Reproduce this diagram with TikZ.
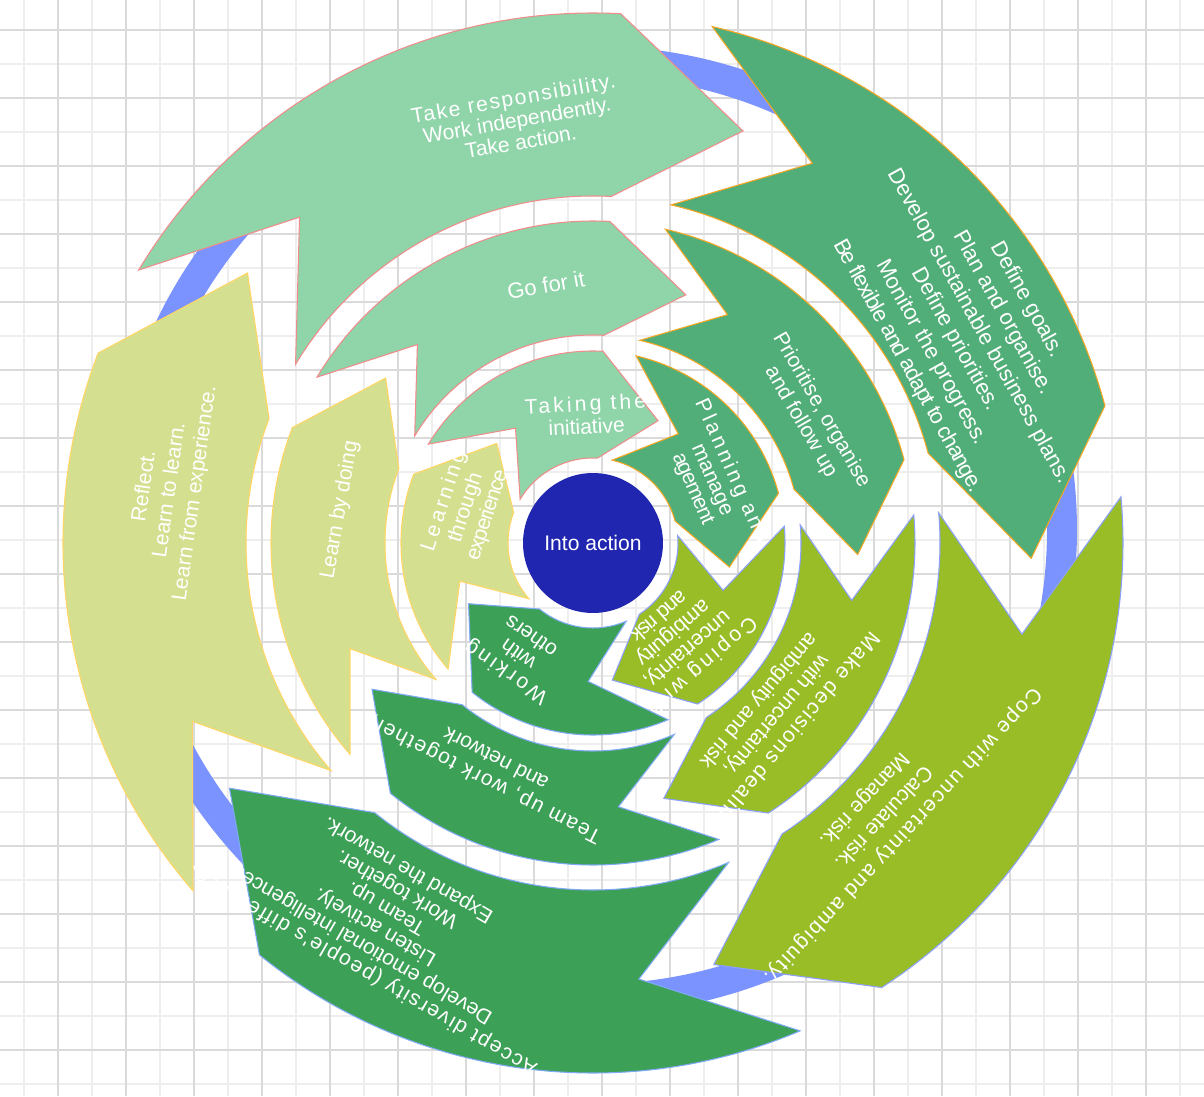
\documentclass[tikz,border=0pt]{standalone}
\usepackage{fontspec}
\setmainfont{Liberation Sans}
\newfontfamily\wideA[LetterSpace=8]{Liberation Sans}
\newfontfamily\wideB[LetterSpace=15]{Liberation Sans}
\newfontfamily\narrowA[LetterSpace=-5]{Liberation Sans}
\usepackage{tikz}
\definecolor{ia_grid}{RGB}{238,238,238}
\definecolor{ia_griddark}{RGB}{218,218,218}
\definecolor{ia_ring}{RGB}{123,147,255}
\definecolor{ia_core}{RGB}{32,38,176}
\definecolor{ia_top}{RGB}{143,213,169}
\definecolor{ia_topline}{RGB}{240,140,140}
\definecolor{ia_plan}{RGB}{82,174,120}
\definecolor{ia_planline}{RGB}{245,166,35}
\definecolor{ia_risk}{RGB}{153,189,39}
\definecolor{ia_riskline}{RGB}{140,160,255}
\definecolor{ia_team}{RGB}{61,160,87}
\definecolor{ia_teamline}{RGB}{127,169,245}
\definecolor{ia_learn}{RGB}{212,224,143}
\definecolor{ia_learnline}{RGB}{255,214,102}
\tikzstyle{topa}=[fill=ia_top,draw=ia_topline,line width=0.6pt]
\tikzstyle{plana}=[fill=ia_plan,draw=ia_planline,line width=0.6pt]
\tikzstyle{riska}=[fill=ia_risk,draw=ia_riskline,line width=0.6pt]
\tikzstyle{teama}=[fill=ia_team,draw=ia_teamline,line width=0.6pt]
\tikzstyle{learna}=[fill=ia_learn,draw=ia_learnline,line width=0.6pt]
\tikzstyle{lbl}=[text=white,align=center,inner sep=0pt,
  font=\fontsize{12}{13.5}\selectfont]
\tikzstyle{core}=[circle,fill=ia_core,text=white,inner sep=0pt,
  minimum size=2.8cm,font=\fontsize{12}{13.5}\selectfont]
\newcommand{\arcarrow}[6]{%
  \path[#1] (#4:#3) arc[start angle=#4,end angle=#5,radius=#3]
    -- ({#5-#6}:{(#2+#3)/2}) -- (#5:#2)
    arc[start angle=#5,end angle=#4,radius=#2]
    -- ({#4-#6}:{(#2+#3)/2}) -- cycle;}

\begin{document}
\begin{tikzpicture}[x=0.02cm,y=0.02cm]
    \useasboundingbox[fill=white] (-593,-553) rectangle (611,543);
    \foreach \gx in {-569,-535,...,611}
      \draw[ia_grid,line width=1.1pt] (\gx,-553) -- (\gx,543);
    \foreach \gy in {-541,-507,...,543}
      \draw[ia_grid,line width=1.1pt] (-593,\gy) -- (611,\gy);
    \foreach \gx in {-535,-467,...,611}
      \draw[ia_griddark,line width=1.1pt] (\gx,-553) -- (\gx,543);
    \foreach \gy in {-507,-439,...,543}
      \draw[ia_griddark,line width=1.1pt] (-593,\gy) -- (611,\gy);
    \draw[ia_ring,line width=0.6cm] (0,13) circle[radius=469];

    \arcarrow{topa}{347}{530}{149}{87}{17}
    \node[lbl,rotate=10,font=\fontsize{12}{12.5}\selectfont] (t3) at (-76,423)
      {{\wideA Take responsibility.}\\Work independently.\\Take action.};
    \arcarrow{topa}{208}{322}{149}{87}{17.5}
    \node[lbl,rotate=10,font=\fontsize{12.5}{14}\selectfont] (t2) at (-47,258) {Go for it};
    \arcarrow{topa}{85}{192}{149}{87}{25}
    \node[lbl,rotate=3,font=\fontsize{12}{13}\selectfont] (t1) at (-7,128)
      {{\wideB Taking the}\\initiative};

    \arcarrow{plana}{347}{530}{77}{15}{17}
    \node[lbl,rotate=-61,font=\fontsize{12.5}{15.5}\selectfont] (g3) at (374,210)
      {Define goals.\\Plan and organise.\\Develop sustainable business plans.\\Define priorities.\\Monitor the progress.\\{\narrowA Be flexible and adapt to change.}};
    \arcarrow{plana}{208}{322}{77}{15}{17.5}
    \node[lbl,rotate=-60] (g2) at (218,127) {Prioritise, organise\\and follow up};
    \arcarrow{plana}{85}{192}{77}{15}{25}
    \node[lbl,rotate=-66,font=\fontsize{12}{12}\selectfont] (g1) at (119,63)
      {{\wideB Planning and}\\manage\\{\narrowA agement}};

    \arcarrow{riska}{347}{530}{5}{-57}{17}
    \node[lbl,rotate=-133,font=\fontsize{12}{15}\selectfont] (y3) at (290,-274)
      {{\wideA Cope with uncertainty and ambiguity.}\\Calculate risk.\\Manage risk.};
    \arcarrow{riska}{208}{322}{5}{-57}{17.5}
    \node[lbl,rotate=-130] (y2) at (183,-172)
      {{\wideA Make decisions dealing}\\with uncertainty,\\ambiguity and risk};
    \arcarrow{riska}{85}{192}{5}{-57}{25}
    \node[lbl,rotate=-139,font=\fontsize{12}{12.5}\selectfont] (y1) at (88,-99)
      {{\wideB Coping with}\\uncertainty,\\ambiguity\\{\narrowA and risk}};

    \arcarrow{teama}{347}{530}{-67}{-129}{17}
    \node[lbl,rotate=150,font=\fontsize{12}{12.5}\selectfont] (b3) at (-212,-374)
      {{\wideA Accept diversity (people's differences).}\\Develop emotional intelligence.\\Listen actively.\\Team up.\\Work together.\\Expand the network.};
    \arcarrow{teama}{208}{322}{-67}{-129}{17.5}
    \node[lbl,rotate=153] (b2) at (-103,-227)
      {{\wideA Team up, work together,}\\and network};
    \arcarrow{teama}{85}{192}{-67}{-129}{25}
    \node[lbl,rotate=145,font=\fontsize{12}{12.5}\selectfont] (b1) at (-75,-112)
      {{\wideB Working}\\with\\others};

    \arcarrow{learna}{347}{530}{221}{159}{17}
    \node[lbl,rotate=82,font=\fontsize{12}{14.5}\selectfont] (l3) at (-423,53)
      {Reflect.\\Learn to learn.\\Learn from experience.};
    \arcarrow{learna}{208}{322}{221}{159}{17.5}
    \node[lbl,rotate=80] (l2) at (-253,33) {Learn by doing};
    \arcarrow{learna}{85}{192}{221}{159}{25}
    \node[lbl,rotate=72,font=\fontsize{12}{13}\selectfont] (l1) at (-127,35)
      {{\wideB Learning}\\through\\{\narrowA experience}};

    \node[core] (into) at (0,0) {Into action};
\end{tikzpicture}
\end{document}
